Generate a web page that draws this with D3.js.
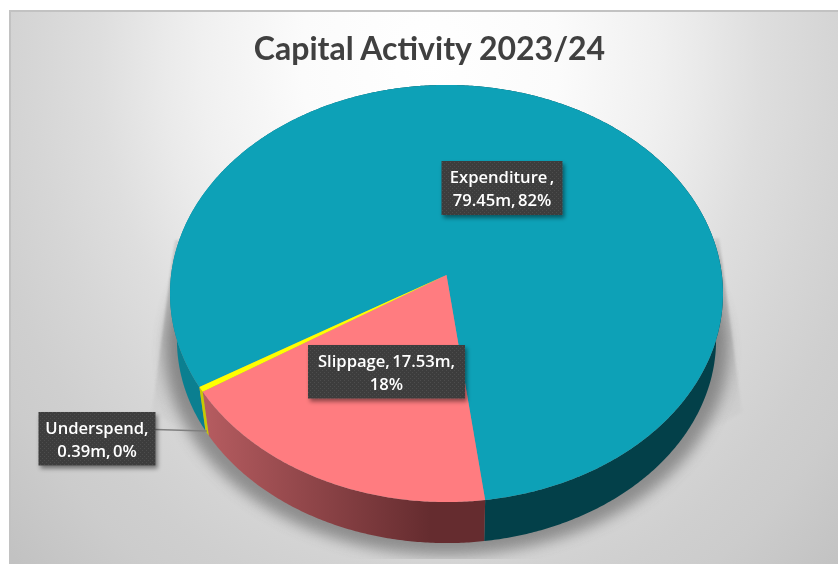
<!DOCTYPE html>
<html>
<head>
<meta charset="utf-8">
<script src="https://cdn.jsdelivr.net/npm/d3@7/dist/d3.min.js"></script>
<style>
  html, body { margin: 0; padding: 0; background: #fff; }
  svg { display: block; }
  text { font-family: "Open Sans", sans-serif; }
</style>
</head>
<body>
<svg id="chart" width="838" height="564"></svg>
<script>
// Capital activity, in millions
const categories = ["Expenditure", "Slippage", "Underspend"];
const amounts = [79.45, 17.53, 0.39];
const topColours = ["#0da1b7", "#ff7c80", "#ffff00"];
const labelLines = [
  ["Expenditure ,", "79.45m, 82%"],
  ["Slippage, 17.53m,", "18%"],
  ["Underspend,", "0.39m, 0%"]
];
const chartTitle = "Capital Activity 2023/24";

const svg = d3.select("#chart");
const defs = svg.append("defs");

// Tilted disc: a perspective mapping from pie angle to the page
const disc = { x0: 446.5, y0: 275, a: 275.4, b: 206.9, k: 0.0887 };
const depth = { scale: 0.975, shift: 53.6 };

const onTop = angle => {
  const u = Math.sin(angle), v = -Math.cos(angle), w = 1 - disc.k * v;
  return [disc.x0 + disc.a * u / w, disc.y0 + disc.b * v / w];
};
const onBase = ([x, y]) => [
  disc.x0 + depth.scale * (x - disc.x0),
  depth.scale * y + depth.shift
];

const rad = d => d * Math.PI / 180;
const firstAngle = rad(238.9);
const slices = d3.pie().sort(null)
  .startAngle(firstAngle)
  .endAngle(firstAngle + 2 * Math.PI)(amounts);

const arcSamples = s => {
  const n = Math.max(2, Math.ceil((s.endAngle - s.startAngle) / rad(0.5)));
  return d3.range(n + 1).map(i => s.startAngle + (s.endAngle - s.startAngle) * i / n);
};
const line = d3.line();
const colour = d3.scaleOrdinal(categories, topColours);

// Panel background
const panel = defs.append("radialGradient").attr("id", "panelFill")
  .attr("gradientUnits", "userSpaceOnUse")
  .attr("cx", 0).attr("cy", 0).attr("r", 1.5)
  .attr("gradientTransform", "translate(430,60) scale(430,520)");
[[0, "#ffffff"], [0.3, "#fbfbfb"], [0.53, "#f0f0f0"], [0.62, "#eaeaea"], [0.77, "#dedede"],
 [0.92, "#d6d6d6"], [1.07, "#cfcfcf"], [1.17, "#cccccc"], [1.4, "#c0c0c0"], [1.5, "#bcbcbc"]]
  .forEach(([d, c]) => panel.append("stop").attr("offset", d / 1.5).attr("stop-color", c));

svg.append("rect").attr("x", 9).attr("y", 10).attr("width", 829).attr("height", 554)
  .attr("fill", "#c2c2c2");
svg.append("rect").attr("x", 11).attr("y", 12).attr("width", 827).attr("height", 552)
  .attr("fill", "url(#panelFill)");

// Soft shadow below the pie
const blur = (id, sd) => defs.append("filter").attr("id", id)
  .attr("x", "-20%").attr("y", "-20%").attr("width", "140%").attr("height", "140%")
  .append("feGaussianBlur").attr("stdDeviation", sd);
blur("shadowBlur", 7);
blur("wedgeBlur", 1.2);
defs.append("clipPath").attr("id", "shadowClip").append("rect")
  .attr("x", 11).attr("y", 12).attr("width", 827).attr("height", 547);

const wedgeFill = (id, x1, x2) => {
  const g = defs.append("linearGradient").attr("id", id)
    .attr("gradientUnits", "userSpaceOnUse")
    .attr("x1", x1).attr("x2", x2).attr("y1", 0).attr("y2", 0);
  g.append("stop").attr("offset", 0).attr("stop-color", "#8c8c8c").attr("stop-opacity", 0.2);
  g.append("stop").attr("offset", 1).attr("stop-color", "#8c8c8c").attr("stop-opacity", 0.7);
};
wedgeFill("wedgeLeft", 150, 185);
wedgeFill("wedgeRight", 744, 710);

// The tall slivers either side fade in from their tips and out into the blurred shadow
const fade = defs.append("linearGradient").attr("id", "wedgeFadeFill")
  .attr("x1", 0).attr("x2", 0).attr("y1", 0).attr("y2", 1);
[[0, "#000"], [0.2, "#fff"], [0.55, "#fff"], [1, "#000"]]
  .forEach(([o, c]) => fade.append("stop").attr("offset", o).attr("stop-color", c));
defs.append("mask").attr("id", "wedgeFade")
  .attr("maskUnits", "userSpaceOnUse")
  .attr("x", 100).attr("y", 225).attr("width", 700).attr("height", 205)
  .append("rect").attr("x", 100).attr("y", 225).attr("width", 700).attr("height", 205)
  .attr("fill", "url(#wedgeFadeFill)");

const shadow = svg.append("g").attr("clip-path", "url(#shadowClip)");
const slivers = shadow.append("g").attr("mask", "url(#wedgeFade)");
slivers.append("path").attr("filter", "url(#wedgeBlur)").attr("fill", "url(#wedgeLeft)")
  .attr("d", line([[175, 240], [152, 412], [215, 450], [215, 240]]));
slivers.append("path").attr("filter", "url(#wedgeBlur)").attr("fill", "url(#wedgeRight)")
  .attr("d", line([[719, 238], [742, 412], [680, 450], [680, 238]]));
shadow.append("path").attr("filter", "url(#shadowBlur)")
  .attr("fill", "#7a7a7a").attr("opacity", 0.8)
  .attr("d", line(d3.range(0, 361, 2).map(d => {
    const [x, y] = onBase(onTop(rad(d)));
    return [x + (x - disc.x0) * 0.04, y + 12];
  })) + "Z");

// Side wall shading, lighter towards the left
const wall = (id, stops) => {
  const g = defs.append("linearGradient").attr("id", id)
    .attr("gradientUnits", "userSpaceOnUse")
    .attr("x1", 200).attr("x2", 430).attr("y1", 0).attr("y2", 0);
  stops.forEach((c, i) => g.append("stop").attr("offset", i / (stops.length - 1)).attr("stop-color", c));
};
wall("wall0", ["#0b7f90", "#034049"]);
wall("wall1", ["#b75d61", "#652c2f"]);
wall("wall2", ["#c9c900", "#c9c900"]);

svg.append("g").selectAll("path").data(slices).join("path")
  .attr("fill", (d, i) => `url(#wall${i})`)
  .attr("d", s => {
    const rim = arcSamples(s).map(onTop);
    return line(rim.concat(rim.map(onBase).reverse())) + "Z";
  });

// Top face of each slice
svg.append("g").selectAll("path").data(slices).join("path")
  .attr("fill", (d, i) => colour(categories[i]))
  .attr("d", s => line([[disc.x0, disc.y0]].concat(arcSamples(s).map(onTop))) + "Z");

// Title
svg.append("text").attr("x", 429.5).attr("y", 60)
  .attr("text-anchor", "middle")
  .attr("fill", "#404040")
  .style("font-family", "Lato, sans-serif")
  .style("font-size", "32px").style("font-weight", 700)
  .text(chartTitle);

// Leader line for the smallest slice
svg.append("line").attr("x1", 155).attr("y1", 429.5).attr("x2", 207).attr("y2", 431)
  .attr("stroke", "#7f7f7f").attr("stroke-width", 1.3);

// Data labels: dark dotted boxes
const dots = defs.append("pattern").attr("id", "labelDots")
  .attr("patternUnits", "userSpaceOnUse").attr("width", 4).attr("height", 4);
dots.append("rect").attr("width", 4).attr("height", 4).attr("fill", "#3e3e3e");
dots.append("rect").attr("width", 1).attr("height", 1).attr("fill", "#4e4e4e");
dots.append("rect").attr("x", 2).attr("y", 2).attr("width", 1).attr("height", 1).attr("fill", "#4e4e4e");

const lift = defs.append("filter").attr("id", "labelLift")
  .attr("x", "-10%").attr("y", "-15%").attr("width", "125%").attr("height", "140%");
lift.append("feDropShadow").attr("dx", 2).attr("dy", 3).attr("stdDeviation", 2)
  .attr("flood-color", "#000").attr("flood-opacity", 0.45);

const labelBoxes = [
  { x: 441.5, y: 161, w: 121, h: 54 },
  { x: 308, y: 345, w: 157, h: 53.5 },
  { x: 38.5, y: 412, w: 117, h: 53.5 }
];
const label = svg.append("g").selectAll("g").data(labelBoxes).join("g");
label.append("rect")
  .attr("x", d => d.x).attr("y", d => d.y).attr("width", d => d.w).attr("height", d => d.h)
  .attr("fill", "url(#labelDots)").attr("filter", "url(#labelLift)");
label.each(function (box, i) {
  d3.select(this).selectAll("text").data(labelLines[i]).join("text")
    .attr("x", box.x + box.w / 2)
    .attr("y", (d, j) => box.y + 21.7 + j * 23.5)
    .attr("text-anchor", "middle")
    .attr("fill", "#fff")
    .style("font-size", "16.6px").style("font-weight", 600)
    .style("word-spacing", "-2px")
    .text(d => d);
});
</script>
</body>
</html>
